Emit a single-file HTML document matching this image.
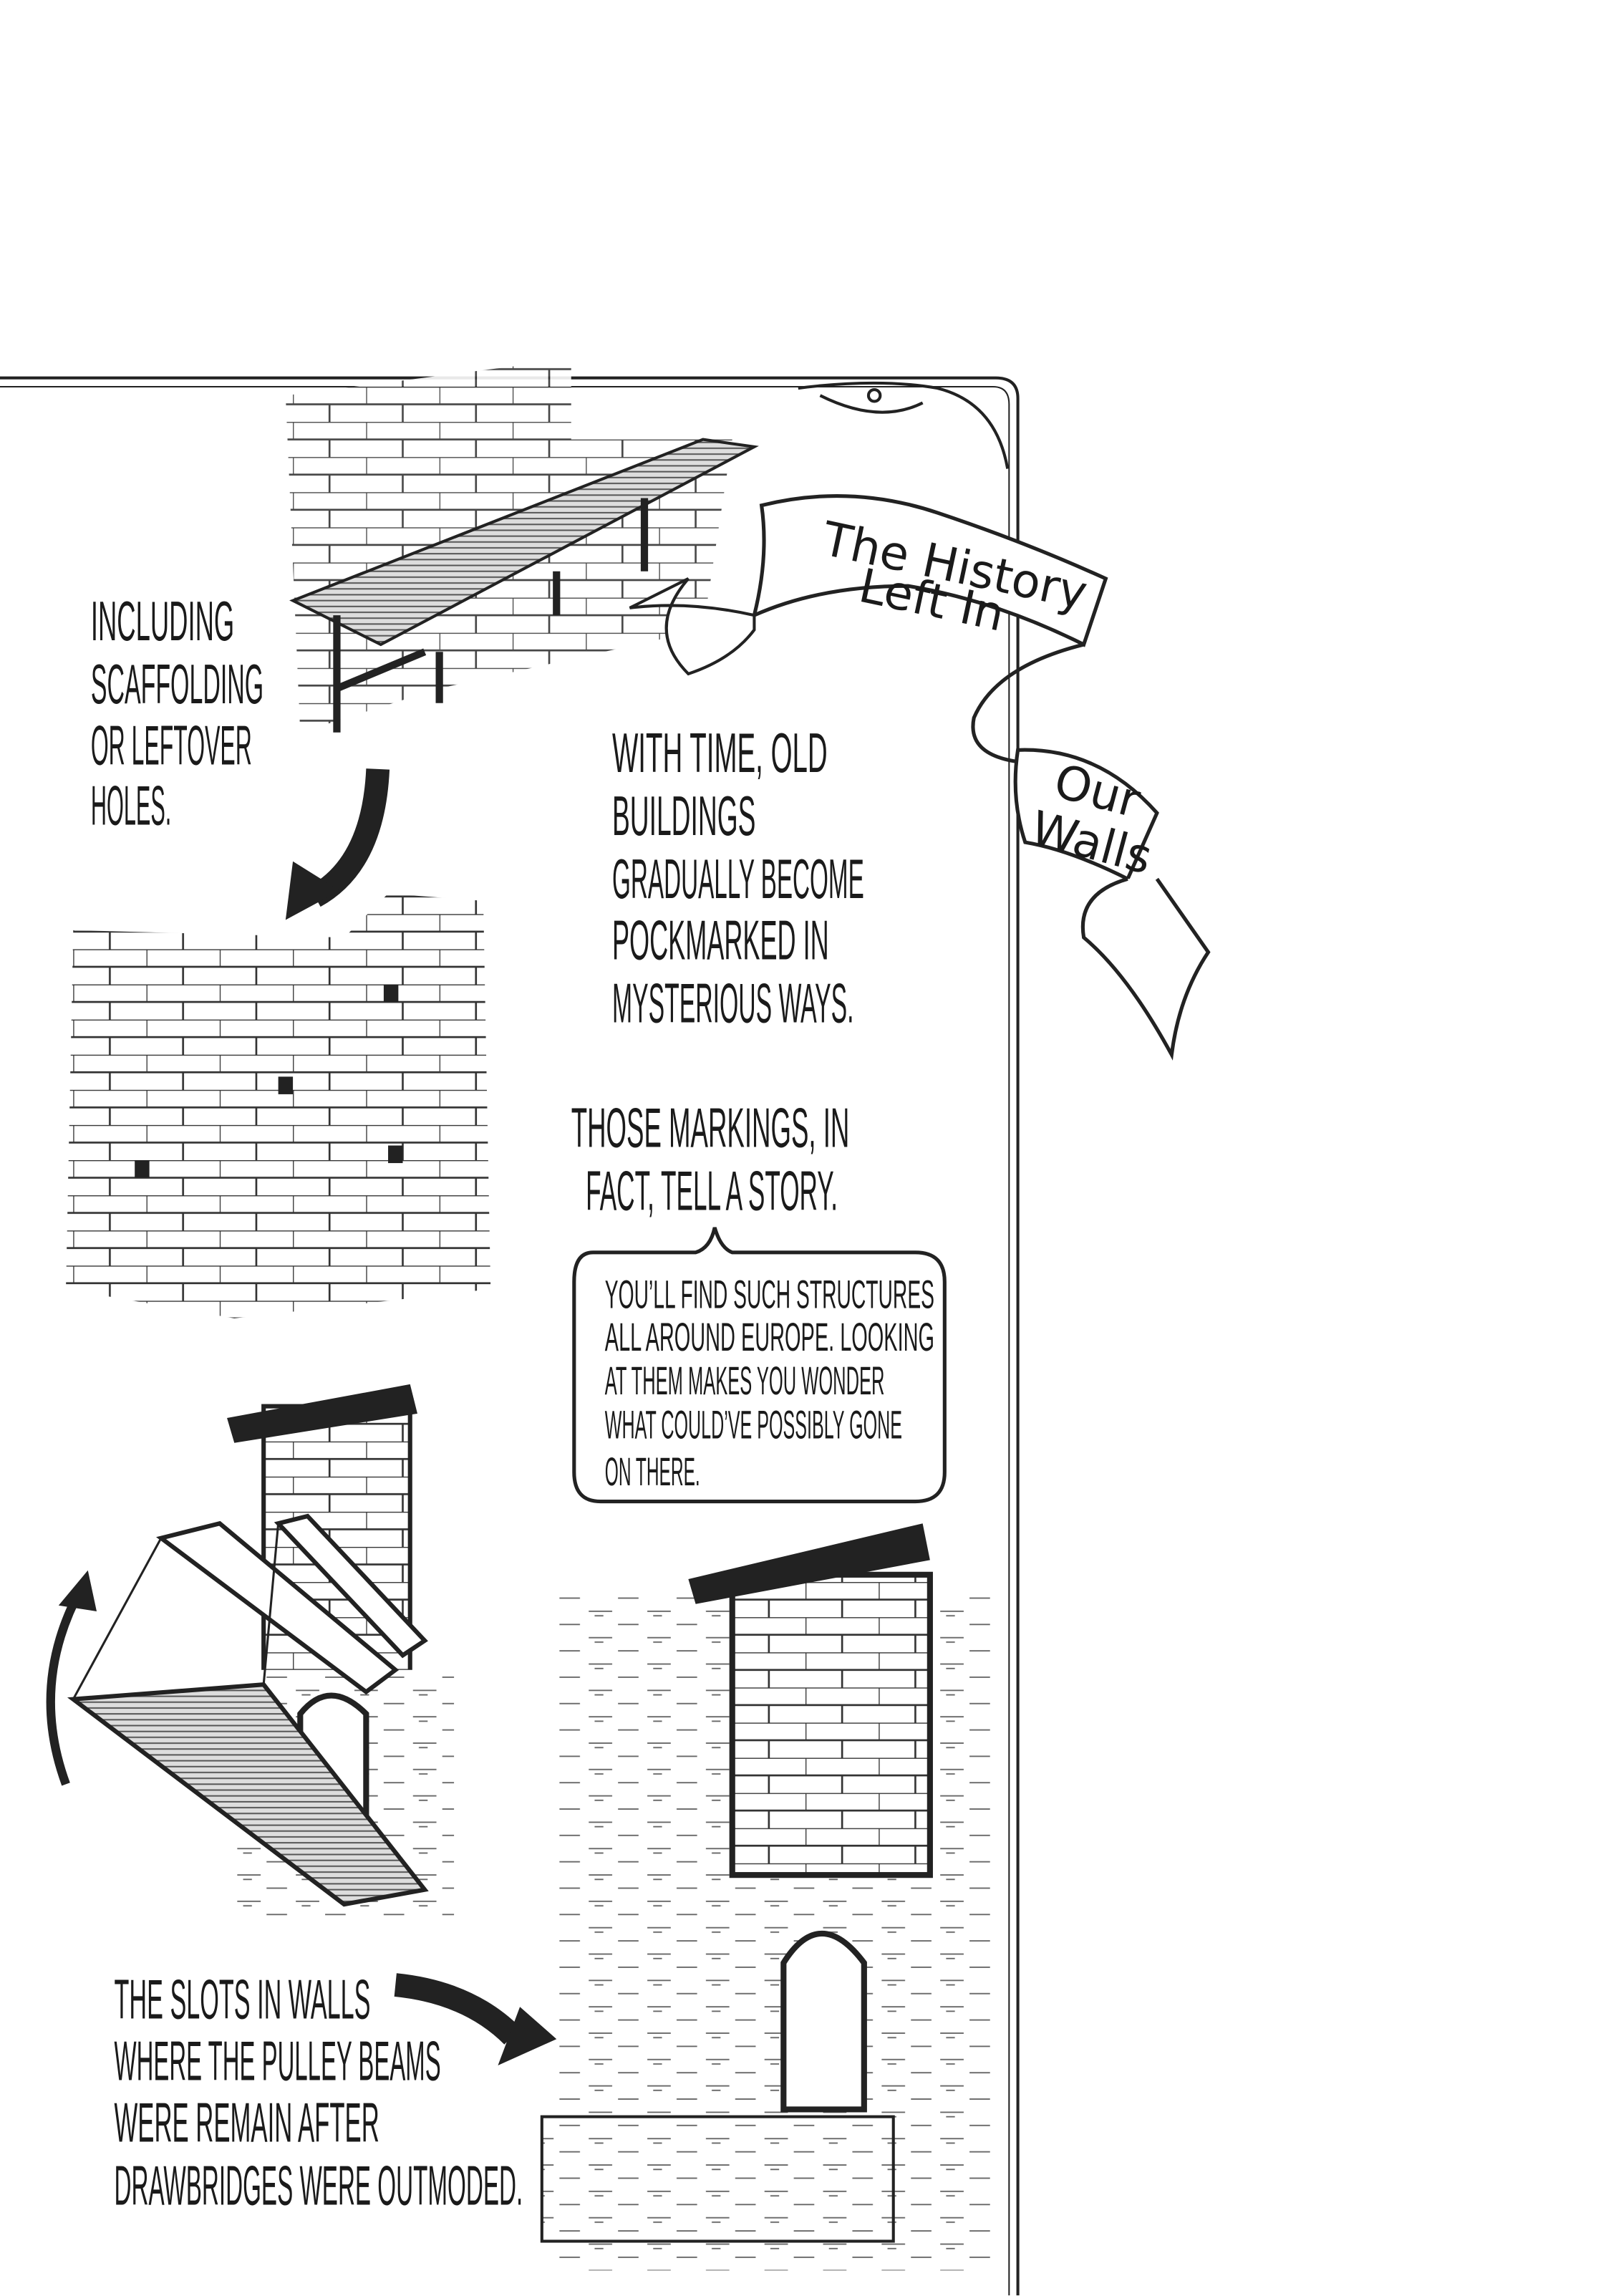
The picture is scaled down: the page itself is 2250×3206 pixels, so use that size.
<!DOCTYPE html>
<html><head><meta charset="utf-8"><style>
html,body{margin:0;padding:0;background:#fff;}
svg{display:block;}
text{font-family:"Liberation Sans Narrow","Liberation Sans",sans-serif;fill:#1a1a1a;}
.t{font-size:38px;}
.s{font-size:27px;}
</style></head><body>
<svg width="2250" height="3206" viewBox="0 0 1100 1567.4" preserveAspectRatio="none" xmlns="http://www.w3.org/2000/svg">
<defs>
<pattern id="brick" width="50" height="24" patternUnits="userSpaceOnUse">
<rect width="50" height="24" fill="#fff"/>
<path d="M0 0H50M0 12H50M0 0V12M25 12V24" stroke="#333" stroke-width="1.3" fill="none"/>
</pattern>
<pattern id="stone" width="40" height="18" patternUnits="userSpaceOnUse">
<rect width="40" height="18" fill="#fff"/>
<path d="M2 2H18M22 11H36M6 5H12" stroke="#666" stroke-width="0.9" fill="none"/>
</pattern>
<pattern id="wood" width="8" height="8" patternUnits="userSpaceOnUse">
<rect width="8" height="8" fill="#ddd"/><path d="M0 2H8M0 6H8" stroke="#555" stroke-width="1"/>
</pattern>
</defs>
<!-- frame -->
<path d="M0 258H680Q695 258 695 272V1567" stroke="#222" stroke-width="2" fill="none"/>
<path d="M0 264H678Q689 264 689 276V1567" stroke="#222" stroke-width="1" fill="none"/>
<path d="M545 265Q600 258 640 265Q680 275 688 320M560 270Q600 290 630 275" stroke="#222" stroke-width="2" fill="none"/>
<circle cx="597" cy="270" r="4" stroke="#222" fill="none" stroke-width="2"/>

<!-- scaffolding drawing -->
<polygon points="195,270 390,245 390,300 500,300 480,430 300,470 205,500" fill="url(#brick)" opacity="0.9"/>
<polygon points="200,410 480,300 515,305 260,440" fill="url(#wood)" stroke="#222" stroke-width="2"/>
<path d="M230 420V500M300 445V480M230 470L290 445M380 390V420M440 340V390" stroke="#222" stroke-width="5" fill="none"/>

<!-- middle wall -->
<polygon points="50,635 235,640 265,610 330,615 335,880 160,900 45,880" fill="url(#brick)"/>
<rect x="262" y="672" width="10" height="12" fill="#222"/><rect x="190" y="735" width="10" height="12" fill="#222"/>
<rect x="92" y="792" width="10" height="12" fill="#222"/><rect x="265" y="782" width="10" height="12" fill="#222"/>

<!-- black arrow top -->
<path d="M258 525Q255 590 215 612" stroke="#222" stroke-width="16" fill="none"/>
<polygon points="195,628 200,588 232,608" fill="#222"/>

<!-- bottom-left tower -->
<rect x="180" y="960" width="100" height="190" fill="url(#brick)" stroke="#222" stroke-width="3"/>
<path d="M155 968L280 945L285 965L160 985Z" fill="#222"/>
<rect x="160" y="1140" width="150" height="170" fill="url(#stone)"/>
<path d="M205 1245V1170Q225 1145 250 1170V1245Z" fill="#fff" stroke="#222" stroke-width="4"/>
<path d="M110 1050L150 1040L270 1140L250 1155ZM190 1040L210 1035L290 1120L275 1130Z" fill="#fff" stroke="#222" stroke-width="3"/>
<polygon points="50,1160 180,1150 290,1290 235,1300" fill="url(#wood)" stroke="#222" stroke-width="3"/>
<path d="M50 1160L110 1050M180 1150L190 1040" stroke="#222" stroke-width="1.5"/>
<path d="M45 1218Q20 1150 55 1085" stroke="#222" stroke-width="6" fill="none"/>
<polygon points="60,1072 40,1096 66,1100" fill="#222"/>

<!-- bottom-right tower -->
<rect x="380" y="1090" width="300" height="460" fill="url(#stone)"/>
<rect x="500" y="1075" width="135" height="205" fill="url(#brick)" stroke="#222" stroke-width="4"/>
<path d="M470 1078L630 1040L635 1065L475 1095Z" fill="#222"/>
<path d="M535 1440V1340Q560 1300 590 1340V1440Z" fill="#fff" stroke="#222" stroke-width="4"/>
<rect x="370" y="1445" width="240" height="85" fill="url(#stone)" stroke="#222" stroke-width="2"/>
<!-- arrow bottom -->
<path d="M270 1355Q320 1360 350 1390" stroke="#222" stroke-width="16" fill="none"/>
<polygon points="380,1392 340,1410 355,1370" fill="#222"/>

<!-- banner -->
<path d="M520 345Q580 330 640 350Q700 370 755 395L740 440Q680 410 620 400Q560 400 515 420Q525 380 520 345Z" fill="#fff" stroke="#222" stroke-width="2.5"/>
<path d="M515 420Q470 410 430 415L470 395Q440 430 470 460Q500 450 515 430Z" fill="#fff" stroke="#222" stroke-width="2"/>
<path d="M740 440Q680 455 665 490Q660 515 695 520" fill="none" stroke="#222" stroke-width="2.5"/>
<path d="M695 512Q750 510 790 555L770 600Q730 580 700 575Q690 545 695 512Z" fill="#fff" stroke="#222" stroke-width="2.5"/>
<path d="M770 600Q735 610 740 640Q770 665 800 720Q805 680 825 650L790 600" fill="#fff" stroke="#222" stroke-width="2.5"/>
<text x="560" y="378" transform="rotate(12 560 378)" style="font-family:'DejaVu Sans',sans-serif;font-size:32px">The History</text>
<text x="585" y="410" transform="rotate(12 585 410)" style="font-family:'DejaVu Sans',sans-serif;font-size:32px">Left In</text>
<text x="718" y="543" transform="rotate(15 718 543)" style="font-family:'DejaVu Sans',sans-serif;font-size:32px">Our</text>
<text x="702" y="575" transform="rotate(15 702 575)" style="font-family:'DejaVu Sans',sans-serif;font-size:32px">Walls</text>

<!-- texts -->
<text class="t" x="62" y="437" textLength="98" lengthAdjust="spacingAndGlyphs">INCLUDING</text>
<text class="t" x="62" y="480" textLength="118" lengthAdjust="spacingAndGlyphs">SCAFFOLDING</text>
<text class="t" x="62" y="522" textLength="110" lengthAdjust="spacingAndGlyphs">OR LEFTOVER</text>
<text class="t" x="62" y="563" textLength="55" lengthAdjust="spacingAndGlyphs">HOLES.</text>

<text class="t" x="418" y="527" textLength="147" lengthAdjust="spacingAndGlyphs">WITH TIME, OLD</text>
<text class="t" x="418" y="570" textLength="98" lengthAdjust="spacingAndGlyphs">BUILDINGS</text>
<text class="t" x="418" y="613" textLength="172" lengthAdjust="spacingAndGlyphs">GRADUALLY BECOME</text>
<text class="t" x="418" y="655" textLength="148" lengthAdjust="spacingAndGlyphs">POCKMARKED IN</text>
<text class="t" x="418" y="698" textLength="165" lengthAdjust="spacingAndGlyphs">MYSTERIOUS WAYS.</text>

<text class="t" x="390" y="783" textLength="190" lengthAdjust="spacingAndGlyphs">THOSE MARKINGS, IN</text>
<text class="t" x="400" y="826" textLength="172" lengthAdjust="spacingAndGlyphs">FACT, TELL A STORY.</text>

<path d="M405 855H475Q485 852 488 838Q492 852 500 855H625Q645 855 645 875V1005Q645 1025 625 1025H410Q392 1025 392 1005V875Q392 855 405 855Z" fill="#fff" stroke="#222" stroke-width="2.5"/>
<text class="s" x="413" y="893" textLength="225" lengthAdjust="spacingAndGlyphs">YOU’LL FIND SUCH STRUCTURES</text>
<text class="s" x="413" y="922" textLength="225" lengthAdjust="spacingAndGlyphs">ALL AROUND EUROPE. LOOKING</text>
<text class="s" x="413" y="952" textLength="191" lengthAdjust="spacingAndGlyphs">AT THEM MAKES YOU WONDER</text>
<text class="s" x="413" y="982" textLength="203" lengthAdjust="spacingAndGlyphs">WHAT COULD’VE POSSIBLY GONE</text>
<text class="s" x="413" y="1014" textLength="65" lengthAdjust="spacingAndGlyphs">ON THERE.</text>

<text class="t" x="78" y="1378" textLength="175" lengthAdjust="spacingAndGlyphs">THE SLOTS IN WALLS</text>
<text class="t" x="78" y="1420" textLength="223" lengthAdjust="spacingAndGlyphs">WHERE THE PULLEY BEAMS</text>
<text class="t" x="78" y="1462" textLength="181" lengthAdjust="spacingAndGlyphs">WERE REMAIN AFTER</text>
<text class="t" x="78" y="1505" textLength="279" lengthAdjust="spacingAndGlyphs">DRAWBRIDGES WERE OUTMODED.</text>
</svg>
</body></html>
